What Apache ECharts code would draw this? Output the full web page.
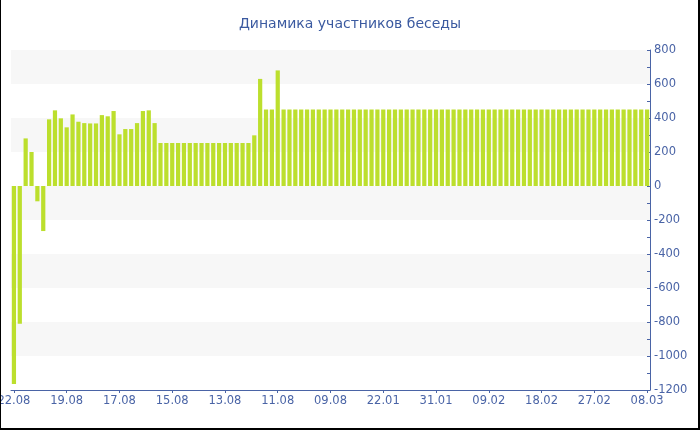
<!DOCTYPE html>
<html>
<head>
<meta charset="utf-8">
<script src="https://cdn.jsdelivr.net/npm/echarts@6/dist/echarts.min.js"></script>
<style>
html,body{margin:0;padding:0;background:#fff;}
#wrap{width:700px;height:430px;box-sizing:border-box;border-left:1px solid #000;border-right:2px solid #000;border-bottom:2px solid #000;position:relative;overflow:hidden;}
#chart{position:absolute;left:-1px;top:0;width:700px;height:430px;}
</style>
</head>
<body>
<div id="wrap"><div id="chart"></div></div>
<script>
const title = 'Динамика участников беседы';
const tickLabels = ['22.08','19.08','17.08','15.08','13.08','11.08','09.08','22.01','31.01','09.02','18.02','27.02','08.03'];
const labelStep = 9;
const values = [
  -1165, -810, 280, 200, -90, -265, 392, 445, 398, 345,
  421, 378, 370, 368, 368, 417, 410, 441, 304, 335,
  335, 370, 441, 445, 370, 253, 253, 253, 253, 253,
  253, 253, 253, 253, 253, 253, 253, 253, 253, 253,
  253, 298, 630, 450, 450, 680, 450, 450, 450, 450,
  450, 450, 450, 450, 450, 450, 450, 450, 450, 450,
  450, 450, 450, 450, 450, 450, 450, 450, 450, 450,
  450, 450, 450, 450, 450, 450, 450, 450, 450, 450,
  450, 450, 450, 450, 450, 450, 450, 450, 450, 450,
  450, 450, 450, 450, 450, 450, 450, 450, 450, 450,
  450, 450, 450, 450, 450, 450, 450, 450, 450
];
const categories = values.map((v, i) => String(i));

const textColor = '#4a64a6';
const fontFamily = 'DejaVu Sans, Verdana, sans-serif';

const chart = echarts.init(document.getElementById('chart'), null, {renderer: 'canvas'});
chart.setOption({
  animation: false,
  backgroundColor: '#fff',
  title: {
    text: title, left: 'center', top: 12,
    textStyle: {color: '#3b5aa0', fontSize: 14, fontWeight: 'normal', fontFamily: fontFamily}
  },
  grid: {left: 11, right: 50, top: 50, bottom: 40, containLabel: false, outerBoundsMode: 'none'},
  xAxis: {
    type: 'category',
    data: categories,
    boundaryGap: true,
    axisLine: {onZero: false, lineStyle: {color: '#4a64a6', width: 1}},
    axisTick: {show: true, alignWithLabel: true, interval: labelStep - 1, length: 3, lineStyle: {color: '#4a64a6', width: 1}},
    axisLabel: {
      interval: labelStep - 1, color: textColor, fontSize: 11.5, fontFamily: fontFamily, margin: 5,
      hideOverlap: false,
      formatter: (v, idx) => tickLabels[Math.round(idx / labelStep)] || ''
    },
    splitLine: {show: false}
  },
  yAxis: {
    type: 'value',
    position: 'right',
    min: -1200, max: 800, interval: 200,
    axisLine: {show: true, lineStyle: {color: '#4a64a6'}},
    axisTick: {show: true, inside: true, length: 3, lineStyle: {color: '#4a64a6'}},
    minorTick: {show: true, splitNumber: 2, length: 3, lineStyle: {color: '#4a64a6'}},
    axisLabel: {color: textColor, fontSize: 11.5, fontFamily: fontFamily, margin: 4, formatter: (v) => String(v)},
    splitLine: {show: false},
    splitArea: {show: true, areaStyle: {color: ['#ffffff', '#f7f7f7']}}
  },
  series: [{
    type: 'bar',
    data: values,
    barCategoryGap: '28%',
    itemStyle: {color: '#bcdf2d'}
  }]
});
</script>
</body>
</html>
